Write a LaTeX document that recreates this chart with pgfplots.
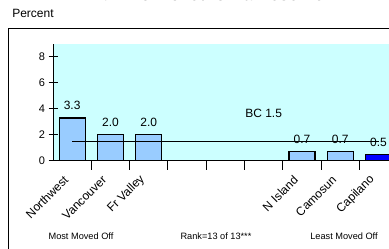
\documentclass[border=0pt]{standalone}
\usepackage{pgfplots}
\pgfplotsset{compat=1.18}
\usepackage{fontspec}
\setmainfont{Liberation Sans}
\definecolor{bgcyan}{HTML}{CCFFFF}
\definecolor{barblue}{HTML}{99CCFF}
\definecolor{darkblue}{HTML}{0000FF}
\begin{document}
\begin{tikzpicture}[x=1pt,y=1pt]
\path[use as bounding box, clip] (0,0) rectangle (389,249);
\draw[line width=1pt] (8,220) rectangle (430,-20);
\node[font=\bfseries\fontsize{17}{20}\selectfont, anchor=base] at (209,248.5) {\% Who Moved Off a Reserve};
\node[font=\fontsize{12}{14}\selectfont] at (33,236) {Percent};
\begin{axis}[
  at={(53pt,88.3pt)}, anchor=south west,
  scale only axis, width=344.7pt, height=116.7pt,
  xmin=0.5, xmax=9.5, ymin=0, ymax=9,
  axis x line=bottom, axis y line=left,
  axis line style={-, line width=1pt},
  axis background/.style={fill=bgcyan},
  ytick={0,2,4,6,8},
  tick align=center, major tick length=9pt,
  tick style={line width=1pt, black},
  xtick={1.5,2.5,...,8.5}, xticklabels={},
  extra x ticks={1,2,3,7,8,9},
  extra x tick labels={Northwest,Vancouver,Fr Valley,N Island,Camosun,Capilano},
  extra x tick style={major tick length=0pt},
  xticklabel style={xshift=-6pt, yshift=-17pt, rotate=45, anchor=east, inner sep=0pt, font=\fontsize{12}{14}\selectfont},
  yticklabel style={font=\fontsize{11}{13}\selectfont},
  /pgf/number format/assume math mode=true,
  ybar, bar width=26pt,
]
\addplot[ybar, bar shift=0pt, fill=barblue, draw=black, line width=1.2pt,
  point meta=explicit symbolic, nodes near coords,
  nodes near coords style={font=\fontsize{12}{14}\selectfont, yshift=4pt}]
  coordinates {(1,3.3)[3.3] (2,2.0)[2.0] (3,2.0)[2.0] (7,0.7)[0.7] (8,0.7)[0.7]};
\addplot[ybar, bar shift=0pt, fill=darkblue, draw=black, line width=1.2pt,
  point meta=explicit symbolic, nodes near coords,
  nodes near coords style={font=\fontsize{12}{14}\selectfont, yshift=4pt}]
  coordinates {(9,0.5)[0.5]};
\addplot[sharp plot, black, line width=1pt, mark=none] coordinates {(1,1.5) (9,1.5)};
\node[font=\fontsize{12}{14}\selectfont] at (axis cs:6,3.67) {BC 1.5};
\end{axis}
\node[font=\fontsize{9.2}{11}\selectfont] at (81,12.3) {Most Moved Off};
\node[font=\fontsize{9.2}{11}\selectfont] at (216,12.3) {Rank=13 of 13***};
\node[font=\fontsize{9.2}{11}\selectfont] at (344,12.3) {Least Moved Off};
\end{tikzpicture}
\end{document}
